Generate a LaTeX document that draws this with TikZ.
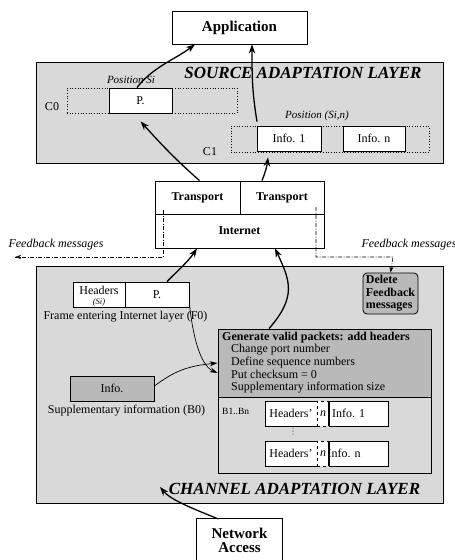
\documentclass[tikz,border=0pt]{standalone}
\usepackage{fontspec}
\setmainfont{Liberation Serif}
\usetikzlibrary{arrows.meta}
\begin{document}
\begin{tikzpicture}[x=1pt,y=-1pt,
  box/.style={draw, line width=0.8pt, fill=white, inner sep=0pt},
  layer/.style={draw, line width=0.8pt, fill=gray!30, inner sep=0pt},
  darkbox/.style={draw, line width=0.8pt, fill=gray!55, inner sep=0pt},
  dotbox/.style={draw, dotted, line width=0.7pt, inner sep=0pt},
  flow/.style={line width=1.3pt, -{Stealth[length=9pt,width=6.5pt]}},
  thinflow/.style={line width=0.7pt, -{Stealth[length=8pt,width=5pt]}},
  fb/.style={line width=0.6pt, dash pattern=on 4pt off 1.5pt on 1pt off 1.5pt},
  t12/.style={font=\fontsize{12}{12.7}\selectfont},
  t15b/.style={font=\fontsize{15}{14}\selectfont\bfseries},
  t12b/.style={font=\fontsize{12}{12.5}\selectfont\bfseries},
  t11i/.style={font=\fontsize{11}{12}\selectfont\itshape},
  ttitle/.style={font=\fontsize{17}{17}\selectfont\bfseries\itshape},
  tsmall/.style={font=\fontsize{9.5}{10}\selectfont},
]
\useasboundingbox (0,0) rectangle (455,560);

% ---------- Application
\node[box, t15b, minimum width=135pt, minimum height=33pt] (app) at (239.5,27.5) {Application};

% ---------- Source adaptation layer
\node[layer, minimum width=407pt, minimum height=101pt] (sal) at (239.5,112.5) {};
\node[ttitle, inner sep=0pt] (saltitle) at (303,73) {SOURCE ADAPTATION LAYER};

\node[dotbox, minimum width=170pt, minimum height=25pt] (c0) at (152,100.5) {};
\node[box, t12, minimum width=63pt, minimum height=25pt] (pbox) at (140.5,100.5) {P.};
\node[t11i, inner sep=0pt] (possi) at (131,80) {Position Si};
\node[t12, inner sep=0pt] (c0lab) at (52,106.5) {C0};

\node[dotbox, minimum width=198pt, minimum height=26pt] (c1) at (330,139) {};
\node[box, t12, minimum width=64pt, minimum height=25pt] (info1) at (289,138.5) {Info. 1};
\node[box, t12, minimum width=62pt, minimum height=25pt] (infon) at (374,138.5) {Info. n};
\node[t11i, inner sep=0pt] (possin) at (317,116) {Position (Si,n)};
\node[t12, inner sep=0pt] (c1lab) at (210,152) {C1};

% ---------- Transport / Internet
\node[box, t12b, minimum width=85pt, minimum height=33pt] (tl) at (197.5,197.5) {Transport};
\node[box, t12b, minimum width=84pt, minimum height=33pt] (tr) at (282,197.5) {Transport};
\node[box, t12b, minimum width=169pt, minimum height=34pt] (inet) at (239.5,231) {Internet};

% ---------- Channel adaptation layer
\node[layer, minimum width=407pt, minimum height=237pt] (cal) at (239.5,384.5) {};
\node[ttitle, inner sep=0pt] (caltitle) at (294.5,489) {CHANNEL ADAPTATION LAYER};

% feedback lines
\coordinate (fbls) at (163,210);
\coordinate (fblc) at (163,257);
\coordinate (fble) at (15,257);
\coordinate (fbrs) at (316,207);
\coordinate (fbrc) at (316,257);
\coordinate (fbrd) at (393,257);
\node[t12, font=\fontsize{12}{12}\selectfont\itshape, inner sep=0pt] (fbllab) at (56,245) {Feedback messages};
\node[t12, font=\fontsize{12}{12}\selectfont\itshape, inner sep=0pt] (fbrlab) at (409,245) {Feedback messages};

\node[darkbox, rounded corners=4pt, t12b, minimum width=55pt, minimum height=41pt, align=left] (del) at (390.5,293.5) {Delete\\Feedback\\messages};

\draw[fb] (fbls) -- (fblc) -- (fble);
\draw[fb, -{Stealth[length=6pt,width=4pt]}] (fble) ++(1,0) -- (fble);
\draw[fb, -{Stealth[length=6pt,width=4pt]}] (fbrs) -- (fbrc) -- (fbrd) -- (del.north);

% frame F0
\node[box, minimum width=52pt, minimum height=25pt] (hdr) at (99,294.5) {};
\node[t12, inner sep=0pt] (hdrtxt) at (99,290) {Headers};
\node[inner sep=0pt, font=\fontsize{8.5}{8.5}\selectfont\itshape] (hdrsi) at (99,302.3) {(Si)};
\node[box, t12, minimum width=64pt, minimum height=25pt] (fp) at (157,294.5) {P.};
\node[t12, inner sep=0pt] (f0lab) at (125.5,317) {Frame entering Internet layer (F0)};

% Info B0
\node[darkbox, t12, minimum width=84pt, minimum height=25pt] (binfo) at (112,388.5) {Info.};
\node[t12, inner sep=0pt] (b0lab) at (126.5,411) {Supplementary information (B0)};

% Generate box
\node[layer, minimum width=213pt, minimum height=144pt] (gen) at (324.5,401) {};
\node[darkbox, minimum width=213pt, minimum height=68pt] (genhead) at (324.5,363) {};
\node[t12, anchor=north west, align=left, inner sep=0pt] (gentxt) at (222,331.5)
  {\textbf{Generate valid packets: add headers}\\
   \hspace*{9pt}Change port number\\
   \hspace*{9pt}Define sequence numbers\\
   \hspace*{9pt}Put checksum = 0\\
   \hspace*{9pt}Supplementary information size};
\node[tsmall, anchor=west, inner sep=0pt] (bn) at (222,411) {B1..Bn};

% rows
\node[box, t12, minimum width=52pt, minimum height=25pt] (h1) at (291,413.5) {Headers'};
\node[box, minimum width=59pt, minimum height=25pt] (i1) at (358.5,413.5) {};
\node[t12, anchor=west, inner sep=0pt] (i1t) at (332,413.5) {Info. 1};
\node[draw, dashed, line width=0.7pt, fill=white, minimum width=12pt, minimum height=25pt, inner sep=0pt, font=\fontsize{12}{12}\selectfont\itshape] (n1) at (323,413.5) {n};

\node[box, t12, minimum width=52pt, minimum height=25pt] (h2) at (291,453.5) {Headers'};
\node[box, minimum width=59pt, minimum height=25pt] (i2) at (358.5,453.5) {};
\node[draw, dashed, line width=0.7pt, fill=white, minimum width=12pt, minimum height=25pt, inner sep=0pt, font=\fontsize{12}{12}\selectfont\itshape] (n2) at (323,453.5) {n};
\node[t12, anchor=west, inner sep=0pt] (i2t) at (327.5,453.5) {Info. n};
\draw[line width=0.8pt] (i1.north west) -- (i1.south west);
\draw[line width=0.8pt] (i2.north west) -- (i2.south west);
\foreach \yy in {428,431,434} \fill (293,\yy) circle (0.5pt);

% Network access
\node[inner sep=0pt, minimum width=85pt, minimum height=42pt, t15b, align=center] (net) at (239.5,540) {Network\\Access};
\draw[line width=0.8pt] (net.south west) ++(0,3) -- (net.north west) -- (net.north east) -- ++(0,45);

% ---------- arrows
\draw[flow] ([xshift=2pt]tl.north) .. controls +(-25,-22) and +(20,22) .. ([yshift=-8pt]pbox.south);
\draw[flow] ([xshift=-20pt]tr.north) .. controls +(4,-10) and +(-1,8) .. ([xshift=-21pt,yshift=-6pt]info1.south);
\draw[flow] ([xshift=-3.5pt]pbox.north) .. controls +(15,-20) and +(-20,15) .. ([xshift=-44.5pt]app.south);
\draw[flow] ([xshift=-32pt,yshift=4pt]info1.north) .. controls +(-5,-30) and +(0,30) .. ([xshift=12.5pt]app.south);
\draw[flow] ([xshift=10pt]fp.north) .. controls +(12,-12) and +(-8,12) .. ([xshift=-42.5pt]inet.south);
\draw[flow] ([xshift=-55.5pt]genhead.north) .. controls +(28,-32) and +(15,32) .. ([xshift=35.5pt]inet.south);
\draw[thinflow] ([yshift=4pt]fp.south east) .. controls +(3,30) and +(-18,-8) .. ([yshift=-10pt]genhead.west);
\draw[thinflow] ([yshift=2.5pt]binfo.east) .. controls +(20,-15) and +(-30,3) .. ([yshift=0pt]genhead.west);
\draw[flow] ([xshift=-21.5pt]net.north) .. controls +(-30,-12) and +(10,12) .. (160,487);
\end{tikzpicture}
\end{document}
